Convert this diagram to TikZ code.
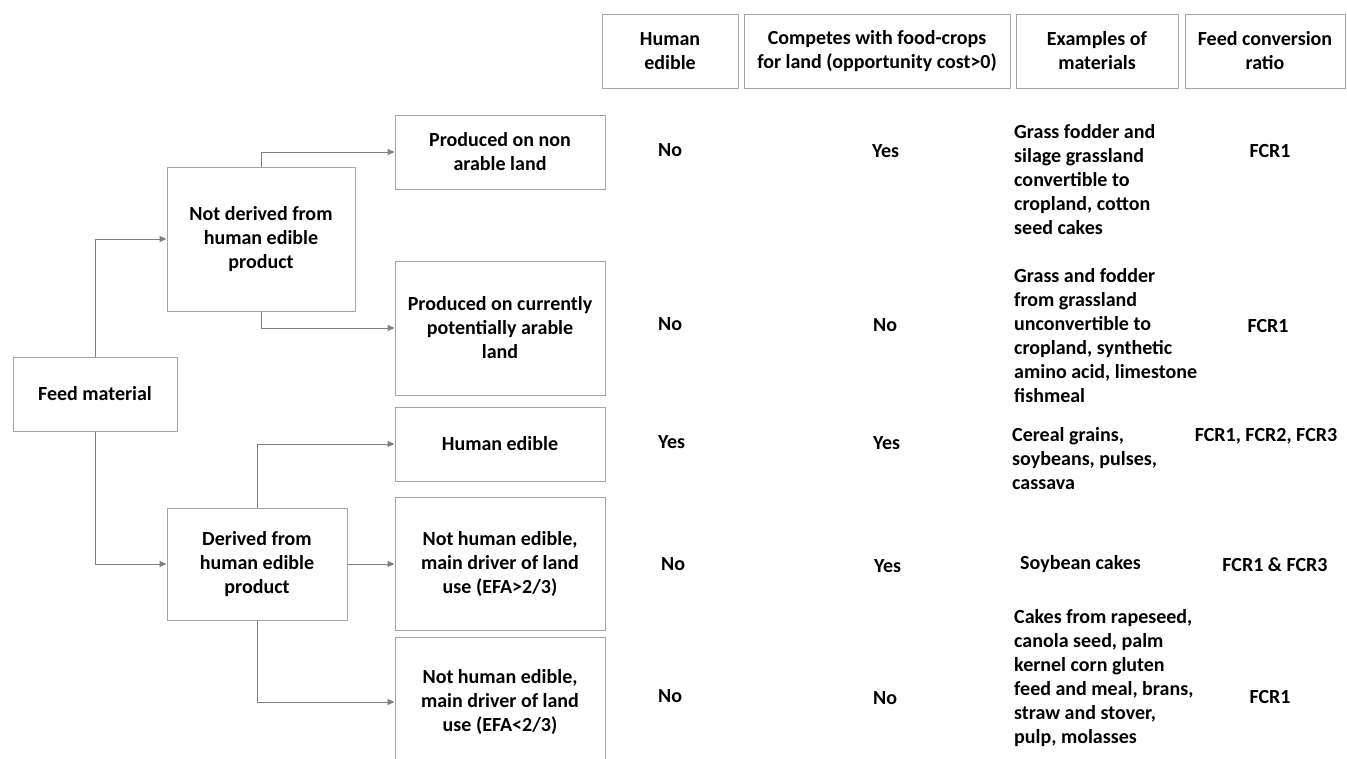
\documentclass[tikz,border=0pt]{standalone}
\usepackage{fontspec}
\setmainfont{Carlito}
\usetikzlibrary{positioning,arrows.meta}
\definecolor{boxgray}{RGB}{165,165,165}
\definecolor{linegray}{RGB}{127,127,127}

\begin{document}
\begin{tikzpicture}[
  x=1pt, y=1pt,
  font=\bfseries\fontsize{20}{24}\selectfont,
  box/.style={draw=boxgray, line width=1pt, align=center, inner sep=2pt},
  head/.style={box, minimum height=74pt},
  choice/.style={box, minimum width=210pt},
  cell/.style={align=left, inner sep=0pt},
  arr/.style={draw=linegray, line width=1pt, -{Triangle[length=7pt,width=6pt]}}
]
  \useasboundingbox (0,0) rectangle (1347,-758);
  \clip (0,0) rectangle (1347,-758);

  % column heads
  \node[head, minimum width=136pt] (hhum) at (670,-51) {Human\\edible};
  \node[head, minimum width=266pt, right=5pt of hhum] (hcomp) {Competes with food-crops\\for land (opportunity cost>0)};
  \node[head, minimum width=162pt, right=5pt of hcomp] (hexa) {Examples of\\materials};
  \node[head, minimum width=160pt, right=6pt of hexa] (hfcr) {Feed conversion\\ratio};

  % tree
  \node[box, minimum width=164pt, minimum height=74pt] (feed) at (95,-394) {Feed material};
  \node[box, minimum width=188pt, minimum height=144pt] (notder) at (261,-239) {Not derived from\\human edible\\product};
  \node[box, minimum width=180pt, minimum height=112pt] (der) at (257,-564) {Derived from\\human edible\\product};

  \node[choice, minimum height=74pt] (p1) at (500,-152) {Produced on non\\arable land};
  \node[choice, minimum height=134pt, below=71pt of p1] (p2) {Produced on currently\\potentially arable\\land};
  \node[choice, minimum height=74pt, below=11pt of p2] (p3) {Human edible};
  \node[choice, minimum height=133pt, below=15pt of p3] (p4) {Not human edible,\\main driver of land\\use (EFA>2/3)};
  \node[choice, minimum height=130pt, below=6pt of p4] (p5) {Not human edible,\\main driver of land\\use (EFA<2/3)};

  \draw[arr] (feed.north) |- (notder.west);
  \draw[arr] (feed.south) |- (der.west);
  \draw[arr] (notder.north) |- (p1.west);
  \draw[arr] (notder.south) |- (p2.west);
  \draw[arr] (der.north) |- (p3.west);
  \draw[arr] (der.east) -- (der.east -| p4.west);
  \draw[arr] (der.south) |- (p5.west);

  % human edible column
  \node[cell, anchor=west] (e1) at (658,-150) {No};
  \node[cell, anchor=west] (e2) at (658,-324) {No};
  \node[cell, anchor=west] (e3) at (658,-442) {Yes};
  \node[cell, anchor=west] (e4) at (661,-564) {No};
  \node[cell, anchor=west] (e5) at (658,-696) {No};

  % competes column
  \node[cell, anchor=west] (c1) at (872,-151) {Yes};
  \node[cell, anchor=west] (c2) at (873,-325) {No};
  \node[cell, anchor=west] (c3) at (873,-443) {Yes};
  \node[cell, anchor=west] (c4) at (874,-566) {Yes};
  \node[cell, anchor=west] (c5) at (873,-698) {No};

  % examples column
  \node[cell, anchor=west] (x1) at (1014,-180) {Grass fodder and\\silage grassland\\convertible to\\cropland, cotton\\seed cakes};
  \node[cell, anchor=west] (x2) at (1014,-336) {Grass and fodder\\from grassland\\unconvertible to\\cropland, synthetic\\amino acid, limestone\\fishmeal};
  \node[cell, anchor=west] (x3) at (1012,-459) {Cereal grains,\\soybeans, pulses,\\cassava};
  \node[cell, anchor=west] (x4) at (1020,-564) {Soybean cakes};
  \node[cell, anchor=west] (x5) at (1014,-678) {Cakes from rapeseed,\\canola seed, palm\\kernel corn gluten\\feed and meal, brans,\\straw and stover,\\pulp, molasses};

  % feed conversion column
  \node[cell] (f1) at (1270,-151) {FCR1};
  \node[cell] (f2) at (1268,-326) {FCR1};
  \node[cell] (f3) at (1266,-436) {FCR1, FCR2, FCR3};
  \node[cell] (f4) at (1275,-565) {FCR1 \& FCR3};
  \node[cell] (f5) at (1270,-697) {FCR1};
\end{tikzpicture}
\end{document}
